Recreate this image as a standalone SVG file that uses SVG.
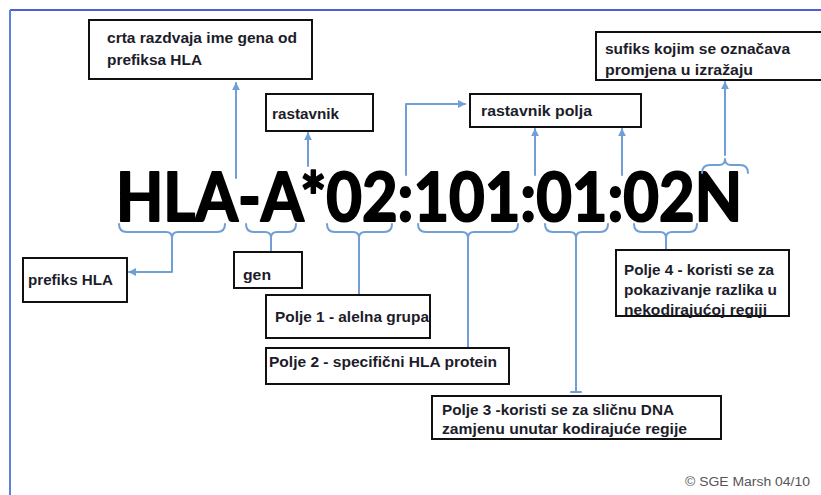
<svg xmlns="http://www.w3.org/2000/svg" width="821" height="495" viewBox="0 0 821 495">
<defs>
<marker id="ah" viewBox="0 0 10 10" refX="9" refY="5" markerWidth="4" markerHeight="4" orient="auto-start-reverse" markerUnits="strokeWidth">
<path d="M0,0 L10,5 L0,10 z" fill="#6f9fd6"/>
</marker>
<style>
.box{fill:#fff;stroke:#111;stroke-width:2}
.lbl{font-family:"Liberation Sans",Arial,sans-serif;font-weight:bold;font-size:14px;fill:#1c1c2a}
.big{font-family:Lato,"Open Sans",sans-serif;font-weight:bold;font-size:67px;fill:#000;stroke:#000;stroke-width:2;stroke-linejoin:round}
.c{fill:none;stroke:#6f9fd6;stroke-width:2;stroke-linejoin:round;stroke-linecap:round}
.arr{marker-end:url(#ah)}
</style>
</defs>
<rect width="821" height="495" fill="#fff"/>
<g id="frame">
<line x1="10" y1="10" x2="821" y2="10" stroke="#4e5fd6" stroke-width="2"/>
<line x1="10" y1="10" x2="10" y2="495" stroke="#5b82dc" stroke-width="2"/>
</g>
<g id="code"><text class="big" x="116" y="221" textLength="626" lengthAdjust="spacingAndGlyphs">HLA-A*02:101:01:02N</text></g>
<g id="connectors">
<line class="c arr" x1="236" y1="178" x2="236" y2="83"/>
<line class="c arr" x1="308" y1="166" x2="308" y2="133"/>
<path class="c arr" d="M406,175 L406,104 L465,104"/>
<line class="c arr" x1="535" y1="175" x2="535" y2="129"/>
<line class="c arr" x1="622" y1="175" x2="622" y2="129"/>
<line class="c arr" x1="725" y1="155" x2="725" y2="82"/>
<path class="c" d="M119,224 Q119,232 127,232 L166,232 Q172,232 172,238 Q172,232 178,232 L217,232 Q225,232 225,224"/>
<path class="c arr" d="M172,238 L172,272 L129,272"/>
<path class="c" d="M246,224 Q246,232 254,232 L265,232 Q271,232 271,238 Q271,232 277,232 L288,232 Q296,232 296,224"/>
<line class="c" x1="271" y1="238" x2="271" y2="251"/>
<path class="c" d="M327,224 Q327,232 335,232 L353,232 Q359,232 359,238 Q359,232 365,232 L384,232 Q392,232 392,224"/>
<line class="c" x1="359" y1="238" x2="359" y2="295"/>
<line class="c" x1="354" y1="295" x2="364" y2="295"/>
<path class="c" d="M418,224 Q418,232 426,232 L462,232 Q468,232 468,238 Q468,232 474,232 L510,232 Q518,232 518,224"/>
<line class="c" x1="468" y1="238" x2="468" y2="347"/>
<path class="c" d="M545,224 Q545,232 553,232 L570,232 Q576,232 576,238 Q576,232 582,232 L600,232 Q608,232 608,224"/>
<line class="c" x1="576" y1="238" x2="576" y2="392"/>
<line class="c" x1="571" y1="392" x2="581" y2="392"/>
<path class="c" d="M634,224 Q634,232 642,232 L660,232 Q666,232 666,238 Q666,232 672,232 L689,232 Q697,232 697,224"/>
<line class="c" x1="666" y1="238" x2="666" y2="249"/>
<path class="c" d="M702,173 Q702,165 710,165 L719,165 Q725,165 725,159 Q725,165 731,165 L740,165 Q748,165 748,173"/>
</g>
<g id="n-crta"><rect class="box" x="89" y="20" width="223" height="59"/><text class="lbl" x="107" y="43" textLength="190" lengthAdjust="spacingAndGlyphs">crta razdvaja ime gena od</text><text class="lbl" x="107" y="65" textLength="95" lengthAdjust="spacingAndGlyphs">prefiksa HLA</text></g>
<g id="n-rastavnik"><rect class="box" x="266" y="94" width="107" height="37"/><text class="lbl" x="272" y="119" textLength="67" lengthAdjust="spacingAndGlyphs">rastavnik</text></g>
<g id="n-rastavnik-polja"><rect class="box" x="470" y="94" width="171" height="33"/><text class="lbl" x="481" y="116" textLength="111" lengthAdjust="spacingAndGlyphs">rastavnik polja</text></g>
<g id="n-sufiks"><rect class="box" x="596" y="32" width="226" height="48"/><text class="lbl" x="605" y="54" textLength="185" lengthAdjust="spacingAndGlyphs">sufiks kojim se označava</text><text class="lbl" x="605" y="75" textLength="148" lengthAdjust="spacingAndGlyphs">promjena u izražaju</text></g>
<g id="n-prefiks"><rect class="box" x="23" y="258" width="104" height="44"/><text class="lbl" x="28" y="285" textLength="85" lengthAdjust="spacingAndGlyphs">prefiks HLA</text></g>
<g id="n-gen"><rect class="box" x="234" y="252" width="68" height="36"/><text class="lbl" x="243" y="280" textLength="28" lengthAdjust="spacingAndGlyphs">gen</text></g>
<g id="n-polje1"><rect class="box" x="266" y="295" width="164" height="43"/><text class="lbl" x="275" y="322" textLength="154" lengthAdjust="spacingAndGlyphs">Polje 1 - alelna grupa</text></g>
<g id="n-polje2"><rect class="box" x="266" y="348" width="243" height="36"/><text class="lbl" x="269" y="367" textLength="228" lengthAdjust="spacingAndGlyphs">Polje 2 - specifični HLA protein</text></g>
<g id="n-polje3"><rect class="box" x="432" y="396" width="289" height="43"/><text class="lbl" x="442" y="415" textLength="232" lengthAdjust="spacingAndGlyphs">Polje 3 -koristi se za sličnu DNA</text><text class="lbl" x="442" y="434" textLength="245" lengthAdjust="spacingAndGlyphs">zamjenu unutar kodirajuće regije</text></g>
<g id="n-polje4"><rect class="box" x="616" y="250" width="173" height="66"/><text class="lbl" x="624" y="275" textLength="150" lengthAdjust="spacingAndGlyphs">Polje 4 - koristi se za</text><text class="lbl" x="624" y="295" textLength="153" lengthAdjust="spacingAndGlyphs">pokazivanje razlika u</text><text class="lbl" x="624" y="315" textLength="143" lengthAdjust="spacingAndGlyphs">nekodirajućoj regiji</text></g>
<g id="copyright"><text x="685" y="486" font-family="'Liberation Sans',Arial,sans-serif" font-size="12" fill="#555" textLength="125" lengthAdjust="spacingAndGlyphs">© SGE Marsh 04/10</text></g>
</svg>
